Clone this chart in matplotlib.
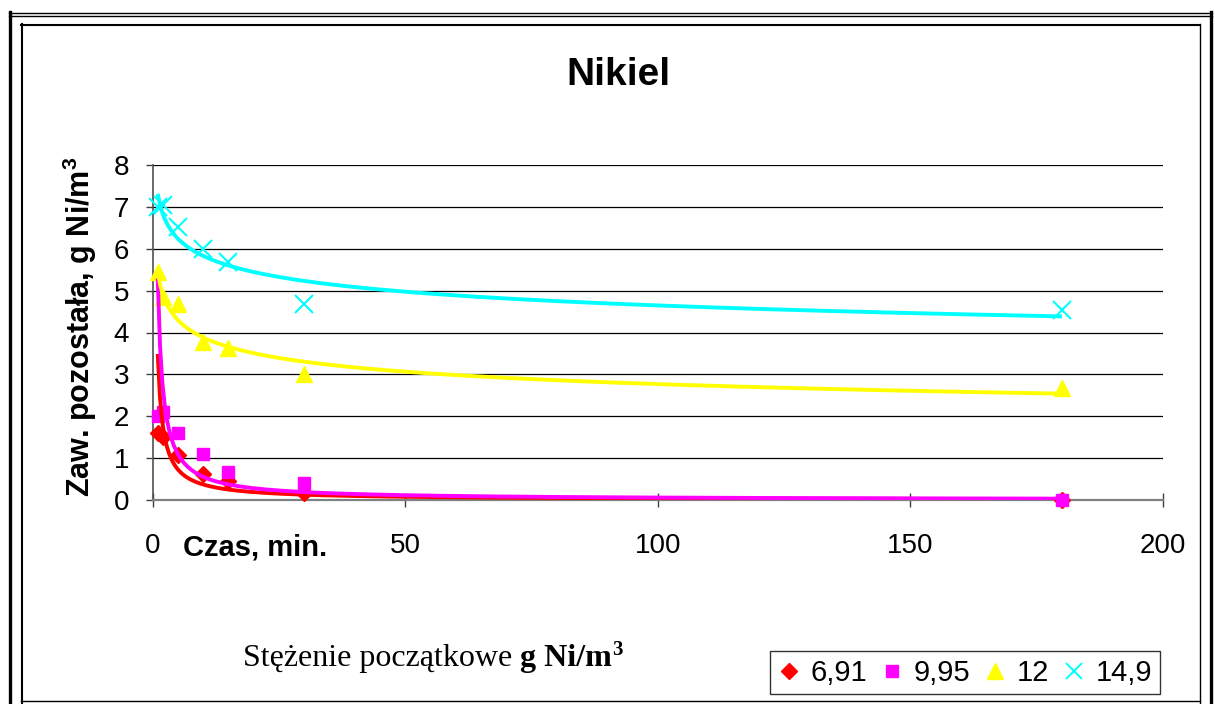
import numpy as np
import matplotlib
matplotlib.use("Agg")
import matplotlib.pyplot as plt
from matplotlib.lines import Line2D
from matplotlib.text import Annotation

plt.rcParams["mathtext.fontset"] = "custom"
plt.rcParams["mathtext.rm"] = "Liberation Sans"
plt.rcParams["mathtext.bf"] = "Liberation Sans:bold"

# Sampling times (min) and residual nickel concentration (g Ni/m3)
czas = [1, 2, 5, 10, 15, 30, 180]
serie_nazwy = ["6,91", "9,95", "12", "14,9"]
ni_691 = [1.59, 1.51, 1.07, 0.62, 0.46, 0.16, 0.01]
ni_995 = [2.00, 2.10, 1.61, 1.11, 0.66, 0.40, 0.01]
ni_12 = [5.45, 4.85, 4.69, 3.78, 3.62, 3.02, 2.67]
ni_149 = [7.00, 7.05, 6.52, 6.00, 5.69, 4.69, 4.53]

x_ticks = [0, 50, 100, 150, 200]
y_ticks = [0, 1, 2, 3, 4, 5, 6, 7, 8]

W, H = 1215, 704
fig = plt.figure(figsize=(W / 100, H / 100), dpi=100)
fig.patch.set_facecolor("white")


def fx(px):
    return px / W


def fy(py):
    return 1 - py / H


# plot area in pixel coordinates
left, right, top, bottom = 152.7, 1163, 165, 500
ax = fig.add_axes([fx(left), fy(bottom), fx(right - left), (bottom - top) / H])
ax.set_xlim(0, 200)
ax.set_ylim(0, 8)
ax.set_facecolor("white")

for s in ["top", "right"]:
    ax.spines[s].set_visible(False)
ax.spines["bottom"].set_color("#808080")
ax.spines["bottom"].set_linewidth(1.6)
ax.spines["left"].set_color("#505050")
ax.spines["left"].set_linewidth(1.2)

ax.set_xticks(x_ticks)
ax.set_yticks(y_ticks)
ax.tick_params(axis="x", direction="inout", length=10, width=1.0, color="#404040",
               labelsize=20, pad=19)
ax.tick_params(axis="y", direction="out", length=5, width=1.0, color="#404040",
               labelsize=20, pad=12)
for lab in ax.get_xticklabels() + ax.get_yticklabels():
    lab.set_fontfamily("Liberation Sans")

for yv in y_ticks[1:]:
    ax.axhline(yv, color="black", lw=0.9, zorder=1)

styles = [
    (ni_691, "#FF0000", "D", 8, 2.8, None),
    (ni_995, "#FF00FF", "s", 9, 2.8, None),
    (ni_12, "#FFFF00", "^", 12, 2.8, None),
    (ni_149, "#00FFFF", "x", 13, 2.8, 1.5),
]

xs = np.array(czas, dtype=float)
xfit = np.linspace(xs.min(), xs.max(), 400)
handles = []
for (vals, col, mk, ms, lw, mew) in styles:
    ys = np.array(vals, dtype=float)
    if mk == "x":
        ax.plot(xs, ys, ls="none", marker=mk, ms=ms, mec=col, mew=mew, zorder=3,
                clip_on=False)
        handles.append(Line2D([], [], ls="none", marker=mk, ms=11, mec=col, mew=1.4))
    else:
        ax.plot(xs, ys, ls="none", marker=mk, ms=ms, mfc=col, mec=col, zorder=3,
                clip_on=False)
        handles.append(Line2D([], [], ls="none", marker=mk, ms=ms, mfc=col, mec=col))
    # power trendline y = a * x^b fitted in log-log space
    b, lna = np.polyfit(np.log(xs), np.log(ys), 1)
    ax.plot(xfit, np.exp(lna) * xfit ** b, color=col, lw=lw, zorder=4,
            solid_capstyle="butt")

# titles and axis labels
fig.text(fx(618), fy(75), "Nikiel", ha="center", va="center", fontsize=28,
         fontweight="bold", family="Liberation Sans")
fig.text(fx(80), fy(327), r"Zaw. pozostała, g Ni/m$^{\mathbf{3}}$", ha="center",
         va="center", rotation=90, fontsize=22, fontweight="bold",
         family="Liberation Sans")
fig.text(fx(183), fy(547), "Czas, min.", ha="left", va="center", fontsize=21,
         fontweight="bold", family="Liberation Sans")

# legend caption: regular serif text followed by bold unit with superscript
t1 = fig.text(fx(243), fy(666), "Stężenie początkowe ", ha="left", va="baseline",
              fontsize=23, family="Liberation Serif")
unit = fig.add_artist(Annotation(
    "g Ni/m", xy=(1, 0), xycoords=t1, ha="left", va="bottom", fontsize=23,
    fontweight="bold", family="Liberation Serif", annotation_clip=False))
fig.add_artist(Annotation(
    "3", xy=(1, 1), xycoords=unit, xytext=(0, 3), textcoords="offset points",
    ha="left", va="top", fontsize=15, fontweight="bold", family="Liberation Serif",
    annotation_clip=False))

leg = fig.legend(handles, serie_nazwy, loc="lower left",
                 bbox_to_anchor=(fx(770), fy(694), fx(390), (694 - 645) / H),
                 mode="expand", ncol=4, frameon=True,
                 prop={"family": "Liberation Sans", "size": 21},
                 handlelength=0.8, handletextpad=0.35, columnspacing=0.9,
                 borderpad=0.25, borderaxespad=0, fancybox=False)
leg.get_frame().set_edgecolor("black")
leg.get_frame().set_linewidth(1.0)


# page frame: outer double border and inner chart border
def hline(y, x0, x1, lw):
    fig.add_artist(Line2D([fx(x0), fx(x1)], [fy(y), fy(y)], color="black", lw=lw,
                          transform=fig.transFigure))


def vline(x, y0, y1, lw):
    fig.add_artist(Line2D([fx(x), fx(x)], [fy(y0), fy(y1)], color="black", lw=lw,
                          transform=fig.transFigure))


hline(12.5, 9, 1212, 1.0)
hline(15.5, 9, 1212, 1.0)
vline(10.5, 12, 704, 2.4)
vline(1210.5, 12, 704, 2.4)
hline(24.5, 21, 1200, 1.5)
vline(21.5, 24, 704, 1.5)
vline(1199.5, 24, 704, 1.0)
hline(700.5, 21, 1200, 1.0)

fig.savefig("out.png", dpi=100)
